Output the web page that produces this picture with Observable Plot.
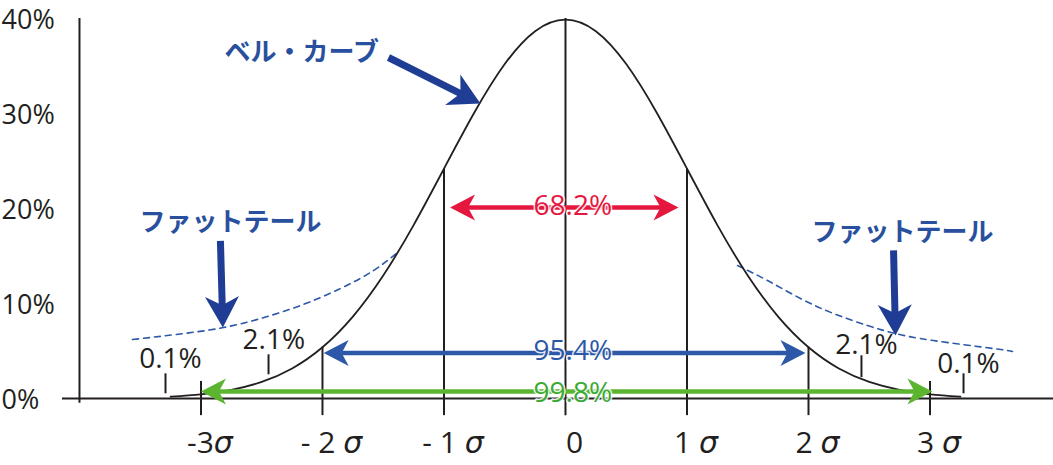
<!DOCTYPE html>
<html><head><meta charset="utf-8">
<script src="https://cdn.jsdelivr.net/npm/d3@7"></script>
<script src="https://cdn.jsdelivr.net/npm/@observablehq/plot@0.6"></script>
<style>body{margin:0;background:#fff}</style>
</head><body><div id="chart"></div>
<script>
// ---- data (x in σ, y in %) ----
const sigmaTicks = [-3, -2, -1, 0, 1, 2, 3];
const sigmaLabels = ["-3σ", "- 2 σ", "- 1 σ", "0", "1 σ", "2 σ", "3 σ"];
const sigmaLineTop = [1.8, 5.4, 24.2, 40, 24.2, 5.4, 1.8];
const yTicks = [0, 10, 20, 30, 40];
const yTickLabels = ["0%", "10%", "20%", "30%", "40%"];

const bellX = [-3.25,-3,-2.75,-2.5,-2.25,-2,-1.75,-1.5,-1.25,-1,-0.75,-0.5,-0.25,0,0.25,0.5,0.75,1,1.25,1.5,1.75,2,2.25,2.5,2.75,3,3.25];
const bellY = [0.2,0.44,0.91,1.75,3.17,5.4,8.63,12.95,18.26,24.2,30.11,35.21,38.67,39.89,38.67,35.21,30.11,24.2,18.26,12.95,8.63,5.4,3.17,1.75,0.91,0.44,0.2];

const tailLeftX = [-3.564,-3.144,-2.815,-2.51,-2.181,-1.852,-1.58,-1.383];
const tailLeftY = [6.21,6.84,7.47,8.42,9.79,11.58,13.47,15.37];
const tailRightX = [1.416,1.663,1.934,2.206,2.486,2.716,3.029,3.523,3.679];
const tailRightY = [14.0,12.42,10.53,8.95,7.68,6.84,6.1,5.26,4.95];

const rangeLabels = ["68.2%", "95.4%", "99.8%"];
const rangeFrom = [-0.95, -1.99, -3.0];
const rangeTo = [0.93, 1.975, 3.02];
const rangeLevel = [20.1, 4.8, 0.74];
const rangeLabelX = [0.06, 0.06, 0.06];
const rangeLabelY = [20.3, 5.05, 0.63];

const tailPctLabels = ["0.1%", "2.1%", "2.1%", "0.1%"];
const tailPctX = [-3.251, -2.4, 2.477, 3.317];
const tailPctY = [4.2, 6.2, 5.58, 3.58];
const tailTickX = [-3.292, -2.444, 2.436, 3.276];
const tailTickLow = [0.5, 2.5, 2.2, 0.5];
const tailTickHigh = [2.6, 4.6, 4.5, 2.6];

const noteTexts = ["ベル・カーブ", "ファットテール", "ファットテール"];
const noteX = [-2.17, -2.757, 2.774];
const noteY = [36.4, 18.5, 17.5];
const noteFromX = [-1.457, -2.84, 2.70];
const noteFromY = [35.9, 16.6, 15.6];
const noteToX = [-0.70, -2.82, 2.716];
const noteToY = [31.05, 7.47, 6.63];

// ---- layout ----
const W = 1053, H = 465;
const xDomain = [-4.650, 4.0165];
const yDomain = [-7.05, 41.9];
const ppx = W / (xDomain[1] - xDomain[0]);
const ppy = H / (yDomain[1] - yDomain[0]);

const INK = "#231f20";
const RED = "#e5173f";
const BLUE = "#2d58a7";
const GREEN_ARROW = "#5cb531";
const GREEN_TEXT = "#3aaa35";
const NOTE_TEXT = "#28509e";
const NOTE_ARROW = "#1f3d94";
const LATIN = "'Open Sans', 'Liberation Sans', sans-serif";
const CJK = "'Noto Sans CJK JP', sans-serif";

const bell = bellX.map((x, i) => ({x, y: bellY[i]}));
const tailL = tailLeftX.map((x, i) => ({x, y: tailLeftY[i]}));
const tailR = tailRightX.map((x, i) => ({x, y: tailRightY[i]}));
const sigmaLines = sigmaTicks.map((x, i) => ({x, top: sigmaLineTop[i]}));
const tailTicks = tailTickX.map((x, i) => ({x, lo: tailTickLow[i], hi: tailTickHigh[i]}));
const tailPct = tailPctLabels.map((t, i) => ({t, x: tailPctX[i], y: tailPctY[i]}));
const rangeColors = [RED, BLUE, GREEN_ARROW];
const rangeTextColors = [RED, BLUE, GREEN_TEXT];
const ranges = rangeLabels.map((t, i) => ({t, x1: rangeFrom[i], x2: rangeTo[i], y1: rangeLevel[i], y2: rangeLevel[i], c: rangeColors[i], tc: rangeTextColors[i], lx: rangeLabelX[i], ly: rangeLabelY[i]}));
const notes = noteTexts.map((t, i) => ({t, x: noteX[i], y: noteY[i], x1: noteFromX[i], y1: noteFromY[i], x2: noteToX[i], y2: noteToY[i]}));
const yLabels = yTicks.map((v, i) => ({v, t: yTickLabels[i]}));

function angle(d) { return Math.atan2((d.x2 - d.x1) * ppx, (d.y2 - d.y1) * ppy) * 180 / Math.PI; }

const rangeHeads = ranges.flatMap(d => [
  {x: d.x2, y: d.y2, a: angle(d), c: d.c},
  {x: d.x1, y: d.y1, a: angle(d) + 180, c: d.c}
]);
const noteHeads = notes.map(d => ({x: d.x2, y: d.y2, a: angle(d)}));

const headShape = {
  draw(ctx, l, r) {
    const n = l * 0.28;
    ctx.moveTo(0, -l);
    ctx.lineTo(r, 0);
    ctx.lineTo(0, -n);
    ctx.lineTo(-r, 0);
    ctx.closePath();
  }
};

const plot = Plot.plot({
  width: W, height: H,
  marginTop: 0, marginRight: 0, marginBottom: 0, marginLeft: 0,
  x: {domain: xDomain, axis: null},
  y: {domain: yDomain, axis: null},
  style: {background: "white", fontFamily: LATIN, overflow: "visible"},
  marks: [
    // axes
    Plot.ruleY([0], {x1: -4.14, x2: 4.02, stroke: INK, strokeWidth: 2}),
    Plot.ruleX([-4], {y1: -0.5, y2: 40, stroke: INK, strokeWidth: 2}),
    Plot.ruleX(sigmaLines, {x: "x", y1: -1.8, y2: "top", stroke: INK, strokeWidth: 2}),
    Plot.ruleX(tailTicks, {x: "x", y1: "lo", y2: "hi", stroke: INK, strokeWidth: 2}),
    // fat tails
    Plot.line(tailL, {x: "x", y: "y", curve: "natural", stroke: BLUE, strokeWidth: 1.6, strokeDasharray: "6,5"}),
    Plot.line(tailR, {x: "x", y: "y", curve: "natural", stroke: BLUE, strokeWidth: 1.6, strokeDasharray: "6,5"}),
    // bell curve
    Plot.line(bell, {x: "x", y: "y", curve: "natural", stroke: INK, strokeWidth: 1.8}),
    // range arrows
    Plot.arrow(ranges, {x1: "x1", y1: "y1", x2: "x2", y2: "y2", stroke: "c", strokeWidth: 4.5, headLength: 0, insetStart: 16, insetEnd: 16, strokeLinecap: "butt"}),
    Plot.vector(rangeHeads, {x: "x", y: "y", rotate: "a", length: 25, r: 13, anchor: "end", shape: headShape, fill: "c", stroke: "none"}),
    Plot.text(ranges, {x: "lx", y: "ly", text: "t", fill: "tc", fontSize: 28, stroke: "white", strokeWidth: 3, strokeOpacity: 0.85}),
    // notes
    Plot.arrow(notes, {x1: "x1", y1: "y1", x2: "x2", y2: "y2", stroke: NOTE_ARROW, strokeWidth: 7, headLength: 0, insetEnd: 20, strokeLinecap: "butt"}),
    Plot.vector(noteHeads, {x: "x", y: "y", rotate: "a", length: 31, r: 17, anchor: "end", shape: headShape, fill: NOTE_ARROW, stroke: "none"}),
    Plot.text(notes, {x: "x", y: "y", text: "t", fill: NOTE_TEXT, fontSize: 26, fontWeight: "bold", fontFamily: CJK}),
    // tail percentages
    Plot.text(tailPct, {x: "x", y: "y", text: "t", fill: INK, fontSize: 28}),
    // tick labels
    Plot.text(yLabels, {y: "v", text: "t", frameAnchor: "left", textAnchor: "start", dx: 1, dy: 2, fill: INK, fontSize: 27}),
    Plot.text(sigmaTicks, {x: d => d, y: -4.7, text: (d, i) => sigmaLabels[i], dx: 9, fill: INK, fontSize: 30})
  ]
});

// italic sigma
const NS = "http://www.w3.org/2000/svg";
plot.querySelectorAll("text").forEach(t => {
  const s = t.textContent;
  if (!s.includes("σ")) return;
  const parts = s.split("σ");
  while (t.firstChild) t.removeChild(t.firstChild);
  const a = document.createElementNS(NS, "tspan"); a.textContent = parts[0]; t.appendChild(a);
  const b = document.createElementNS(NS, "tspan"); b.textContent = "σ";
  b.setAttribute("font-style", "italic"); b.setAttribute("font-family", "'DejaVu Sans', sans-serif");
  t.appendChild(b);
});

document.getElementById("chart").appendChild(plot);
</script></body></html>
